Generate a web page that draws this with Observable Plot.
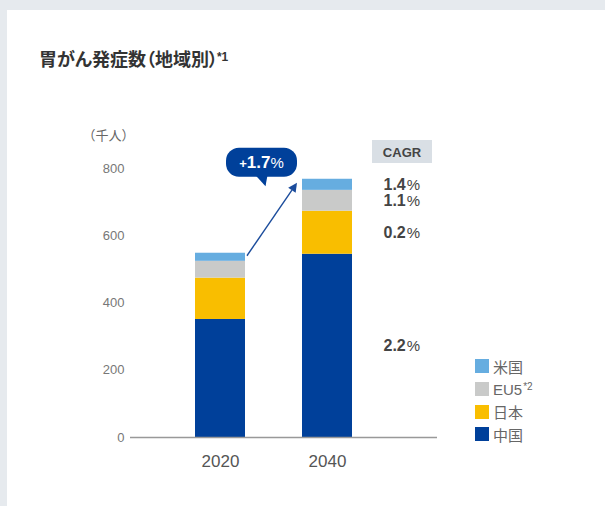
<!DOCTYPE html>
<html>
<head>
<meta charset="utf-8">
<script src="https://cdn.jsdelivr.net/npm/d3@7"></script>
<script src="https://cdn.jsdelivr.net/npm/@observablehq/plot@0.6"></script>
<style>
  html, body { margin: 0; padding: 0; }
  body { width: 605px; height: 506px; background: #e6eaee; position: relative; overflow: hidden; }
  #card { position: absolute; left: 7px; top: 10px; width: 598px; height: 496px; background: #fff; }
  #title { position: absolute; left: 39px; top: 49px; font: bold 18px/18px "Noto Sans CJK JP", sans-serif; color: #333; font-feature-settings: "palt"; white-space: nowrap; }
  #title sup { font: bold 12px "Liberation Sans", Arial, sans-serif; vertical-align: 5px; margin-left: -1px; }
  #chart { position: absolute; left: 0; top: 0; }
  #legend { position: absolute; left: 475px; top: 355px; }
  .lg { display: flex; align-items: center; height: 22.7px; font: 15px "Liberation Sans", "Noto Sans CJK JP", sans-serif; color: #666; }
  .lg .sw { width: 14px; height: 14px; margin-right: 4px; }
  .lg sup { font-size: 10px; vertical-align: 5px; margin-left: 1px; }
</style>
</head>
<body>
<div id="card"></div>
<div id="title"></div>
<div id="chart"></div>
<div id="legend"></div>
<script>
// ---- data ----
const titleText = "胃がん発症数（地域別）";
const titleNote = "*1";
const unitLabel = "（千人）";
const years = ["2020", "2040"];
const regions = ["中国", "日本", "EU5", "米国"];
const regionNotes = ["", "", "*2", ""];
const values2020 = [351, 123, 50, 24];
const values2040 = [545, 128, 62, 33];
const cagrs = ["2.2", "0.2", "1.1", "1.4"];
const totalCagr = "1.7";
const cagrHeader = "CAGR";
const colors = ["#00409a", "#f9be00", "#c9cac9", "#66ade0"];
const yTicks = [0, 200, 400, 600, 800];

const valuesByYear = [values2020, values2040];
const rows = years.flatMap((yr, i) => regions.map((r, j) => ({year: yr, region: r, value: valuesByYear[i][j]})));
const rows2040 = rows.filter(d => d.year === years[1]);
const cagrMap = Object.fromEntries(regions.map((r, j) => [r, cagrs[j]]));
const totals = valuesByYear.map(v => d3.sum(v));

// title
document.getElementById("title").innerHTML = titleText + "<sup>" + titleNote + "</sup>";

const chart = Plot.plot({
  width: 605,
  height: 506,
  marginLeft: 130,
  marginRight: 168,
  marginTop: 168,
  marginBottom: 69,
  style: {fontFamily: "'Liberation Sans', Arial, sans-serif", background: "transparent", overflow: "visible"},
  x: {domain: years, range: [141.5, 405.5], paddingInner: 0.533, paddingOuter: 0.5, label: null},
  y: {domain: [0, 800], label: null},
  color: {domain: regions, range: colors},
  marks: [
    Plot.barY(rows, {x: "year", y: "value", fill: "region"}),
    Plot.ruleY([0], {stroke: "#999", strokeWidth: 1.5}),
    Plot.axisY(yTicks, {tickSize: 0, tickPadding: 6, fontSize: 13, color: "#777", label: null}),
    Plot.axisX({tickSize: 0, tickPadding: 17, fontSize: 17, color: "#555", label: null}),
    Plot.text(rows2040, Plot.stackY({
      x: "year", y: "value", text: d => cagrMap[d.region],
      dx: 56, textAnchor: "start", fontSize: 16, fontWeight: "bold", fill: "#444", ariaLabel: "cagr"
    })),
    Plot.text([unitLabel], {frameAnchor: "top-left", text: d => d, textAnchor: "end", dx: 4, dy: -38,
      fontSize: 13, fill: "#666", fontFamily: "'Noto Sans CJK JP', sans-serif"})
  ]
});
document.getElementById("chart").appendChild(chart);

// annotations using the chart's scales
const svg = d3.select(chart);
const xs = chart.scale("x"), ys = chart.scale("y");
const bw = xs.bandwidth;

// percent signs on CAGR labels
const cagrSet = new Set(cagrs);
svg.selectAll("text").filter(function() {
  return this.childElementCount === 0 && cagrSet.has(this.textContent) && +this.getAttribute("x") !== 0 || 
         (this.childElementCount === 0 && cagrSet.has(this.textContent));
}).each(function() {
  d3.select(this).append("tspan").attr("font-weight", "normal").attr("font-size", 15).attr("dx", 1).text("%");
});

// arrow
const ax1 = xs.apply(years[0]) + bw + 2, ay1 = ys.apply(totals[0]) + 3;
const ax2 = xs.apply(years[1]) - 5, ay2 = ys.apply(totals[1]) + 4;
const dxv = ax2 - ax1, dyv = ay2 - ay1, len = Math.hypot(dxv, dyv);
const ux = dxv / len, uy = dyv / len;
const hl = 9, hw = 4.5;
const arrowColor = "#1b4c9c";
const ag = svg.append("g");
ag.append("line").attr("x1", ax1).attr("y1", ay1).attr("x2", ax2 - ux * hl).attr("y2", ay2 - uy * hl)
  .attr("stroke", arrowColor).attr("stroke-width", 1.4);
const bx = ax2 - ux * hl, by = ay2 - uy * hl;
ag.append("polygon").attr("points", [
  [ax2, ay2], [bx - uy * hw, by + ux * hw], [bx + uy * hw, by - ux * hw]
].map(p => p.join(",")).join(" ")).attr("fill", arrowColor);

// callout bubble
const cx = xs.apply(years[0]) + bw + 16.5, cy = ys.apply(817);
const bg = svg.append("g");
bg.append("rect").attr("x", cx - 35.5).attr("y", cy - 14.5).attr("width", 71).attr("height", 29).attr("rx", 13)
  .attr("fill", "#00409a");
bg.append("polygon").attr("points", `${cx - 6},${cy + 13} ${cx + 6},${cy + 13} ${cx + 4},${cy + 24}`).attr("fill", "#00409a");
const bt = bg.append("text").attr("x", cx).attr("y", cy + 6).attr("text-anchor", "middle").attr("fill", "#fff")
  .attr("font-family", "'Liberation Sans', Arial, sans-serif");
bt.append("tspan").attr("font-size", 13).attr("font-weight", "bold").text("+");
bt.append("tspan").attr("font-size", 17).attr("font-weight", "bold").text(totalCagr);
bt.append("tspan").attr("font-size", 15).text("%");

// CAGR header box
const hx = xs.apply(years[1]) + bw + 20, hy = ys.apply(800) - 28;
svg.append("rect").attr("x", hx).attr("y", hy).attr("width", 60).attr("height", 23).attr("fill", "#d9dfe5");
svg.append("text").attr("x", hx + 30).attr("y", hy + 16.5).attr("text-anchor", "middle")
  .attr("font-family", "'Liberation Sans', Arial, sans-serif").attr("font-size", 13).attr("font-weight", "bold")
  .attr("fill", "#444").text(cagrHeader);

// legend (reverse order: top = last stacked)
const legend = d3.select("#legend");
regions.map((r, j) => j).reverse().forEach(j => {
  const row = legend.append("div").attr("class", "lg");
  row.append("div").attr("class", "sw").style("background", colors[j]);
  const lab = row.append("span").text(regions[j]);
  if (regionNotes[j]) lab.append("sup").text(regionNotes[j]);
});
</script>
</body>
</html>
